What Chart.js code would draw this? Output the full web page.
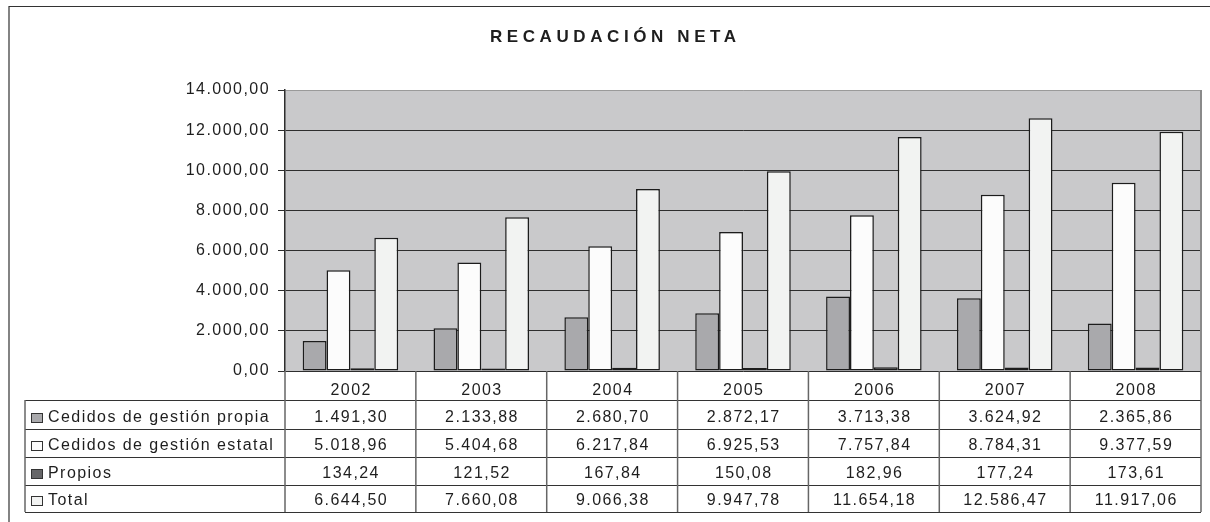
<!DOCTYPE html>
<html>
<head>
<meta charset="utf-8">
<script src="https://cdn.jsdelivr.net/npm/chart.js@4.4.1/dist/chart.umd.min.js"></script>
<style>
  html, body { margin: 0; padding: 0; background: #fff; }
  canvas { display: block; }
</style>
</head>
<body>
<canvas id="recaudacion" width="1210" height="522"></canvas>
<script>
// datos
const anios = ['2002', '2003', '2004', '2005', '2006', '2007', '2008'];
const cedidos_propia = [1491.30, 2133.88, 2680.70, 2872.17, 3713.38, 3624.92, 2365.86];
const cedidos_estatal = [5018.96, 5404.68, 6217.84, 6925.53, 7757.84, 8784.31, 9377.59];
const propios = [134.24, 121.52, 167.84, 150.08, 182.96, 177.24, 173.61];
const total = [6644.50, 7660.08, 9066.38, 9947.78, 11654.18, 12586.47, 11917.06];
const nombres = ['Cedidos de gestión propia', 'Cedidos de gestión estatal', 'Propios', 'Total'];
const eje_max = 14000;
const eje_paso = 2000;

const colores = ['#a9a9ac', '#fcfcfc', '#666668', '#f2f3f2'];
const fuente = '"Liberation Sans", Arial, sans-serif';
const espaciado = 1.45;

// formato 1.234,56
function fmt(v) {
  const partes = v.toFixed(2).split('.');
  return partes[0].replace(/\B(?=(\d{3})+(?!\d))/g, '.') + ',' + partes[1];
}

const marco = {
  id: 'marco',
  beforeDraw(chart) {
    const ctx = chart.ctx;
    const a = chart.chartArea;
    ctx.save();
    // borde exterior
    ctx.strokeStyle = '#333';
    ctx.lineWidth = 1.2;
    ctx.beginPath();
    ctx.moveTo(9, 522);
    ctx.lineTo(9, 6.5);
    ctx.lineTo(1210, 6.5);
    ctx.stroke();
    // fondo del area
    ctx.fillStyle = '#c9c9cb';
    ctx.fillRect(a.left, a.top, a.right - a.left, a.bottom - a.top);
    // titulo
    ctx.fillStyle = '#1e1e1e';
    ctx.font = 'bold 17px ' + fuente;
    ctx.letterSpacing = '4.6px';
    ctx.textAlign = 'left';
    ctx.textBaseline = 'alphabetic';
    const w = ctx.measureText('RECAUDACIÓN NETA').width;
    ctx.fillText('RECAUDACIÓN NETA', 613 - (w - 4.6) / 2, 42);
    ctx.restore();
    ctx.letterSpacing = espaciado + 'px';
  },
  afterDraw(chart) {
    const ctx = chart.ctx;
    const a = chart.chartArea;
    const x = chart.scales.x;
    const ancho = (a.right - a.left) / anios.length;
    const filas = [400, 429, 457, 485, 512];
    const izq = 25;
    const series = [cedidos_propia, cedidos_estatal, propios, total];

    ctx.save();
    // borde derecho del area
    ctx.strokeStyle = '#8a8a8a';
    ctx.lineWidth = 2;
    ctx.beginPath();
    ctx.moveTo(a.right, a.top);
    ctx.lineTo(a.right, a.bottom);
    ctx.stroke();

    // lineas horizontales de la tabla
    ctx.strokeStyle = '#333';
    ctx.lineWidth = 1;
    filas.forEach(y => {
      ctx.beginPath();
      ctx.moveTo(izq, y + 0.5);
      ctx.lineTo(a.right, y + 0.5);
      ctx.stroke();
    });
    // lineas verticales
    ctx.strokeStyle = '#666';
    ctx.lineWidth = 1.5;
    for (let i = 0; i <= anios.length; i++) {
      const px = a.left + i * ancho;
      ctx.beginPath();
      ctx.moveTo(px, a.bottom);
      ctx.lineTo(px, filas[filas.length - 1]);
      ctx.stroke();
    }
    ctx.beginPath();
    ctx.moveTo(izq, filas[0]);
    ctx.lineTo(izq, filas[filas.length - 1]);
    ctx.stroke();

    ctx.fillStyle = '#1e1e1e';
    ctx.font = '16px ' + fuente;
    ctx.letterSpacing = espaciado + 'px';
    ctx.textBaseline = 'alphabetic';
    ctx.textAlign = 'center';
    anios.forEach((anio, i) => {
      ctx.fillText(anio, x.getPixelForValue(i) + espaciado / 2, 395);
    });
    series.forEach((datos, s) => {
      const base = filas[s + 1] - 7.5;
      datos.forEach((v, i) => {
        ctx.fillText(fmt(v), x.getPixelForValue(i) + espaciado / 2, base);
      });
    });
    // leyenda
    ctx.textAlign = 'left';
    series.forEach((datos, s) => {
      const base = filas[s + 1] - 7.5;
      ctx.fillStyle = colores[s];
      ctx.fillRect(31.5, base - 8, 11, 9);
      ctx.strokeStyle = '#333';
      ctx.lineWidth = 1;
      ctx.strokeRect(31.5, base - 8, 11, 9);
      ctx.fillStyle = '#1e1e1e';
      ctx.fillText(nombres[s], 48, base);
    });
    ctx.restore();
  }
};

new Chart(document.getElementById('recaudacion'), {
  type: 'bar',
  data: {
    labels: anios,
    datasets: [cedidos_propia, cedidos_estatal, propios, total].map((d, i) => ({
      label: nombres[i],
      data: d,
      backgroundColor: colores[i],
      borderColor: '#1c1c1c',
      borderWidth: 1.5,
      borderSkipped: false,
      categoryPercentage: 0.73,
      barPercentage: 1.0
    }))
  },
  options: {
    responsive: false,
    animation: false,
    devicePixelRatio: 1,
    layout: { padding: { top: 90, right: 9, bottom: 151, left: 0 } },
    plugins: {
      legend: { display: false },
      title: { display: false },
      tooltip: { enabled: false }
    },
    scales: {
      x: { display: false },
      y: {
        min: 0,
        max: eje_max,
        afterFit(scale) { scale.width = 285; },
        ticks: {
          stepSize: eje_paso,
          padding: 8,
          color: '#1e1e1e',
          font: { family: fuente, size: 16 },
          callback: v => fmt(v)
        },
        grid: {
          color: ctx => (ctx.tick && ctx.tick.value === eje_max ? '#9a9a9a' : '#2e2e2e'),
          lineWidth: 1,
          tickLength: 7,
          tickColor: '#2e2e2e'
        },
        border: { display: true, color: '#2e2e2e', width: 1.5 }
      }
    }
  },
  plugins: [marco]
});
</script>
</body>
</html>
